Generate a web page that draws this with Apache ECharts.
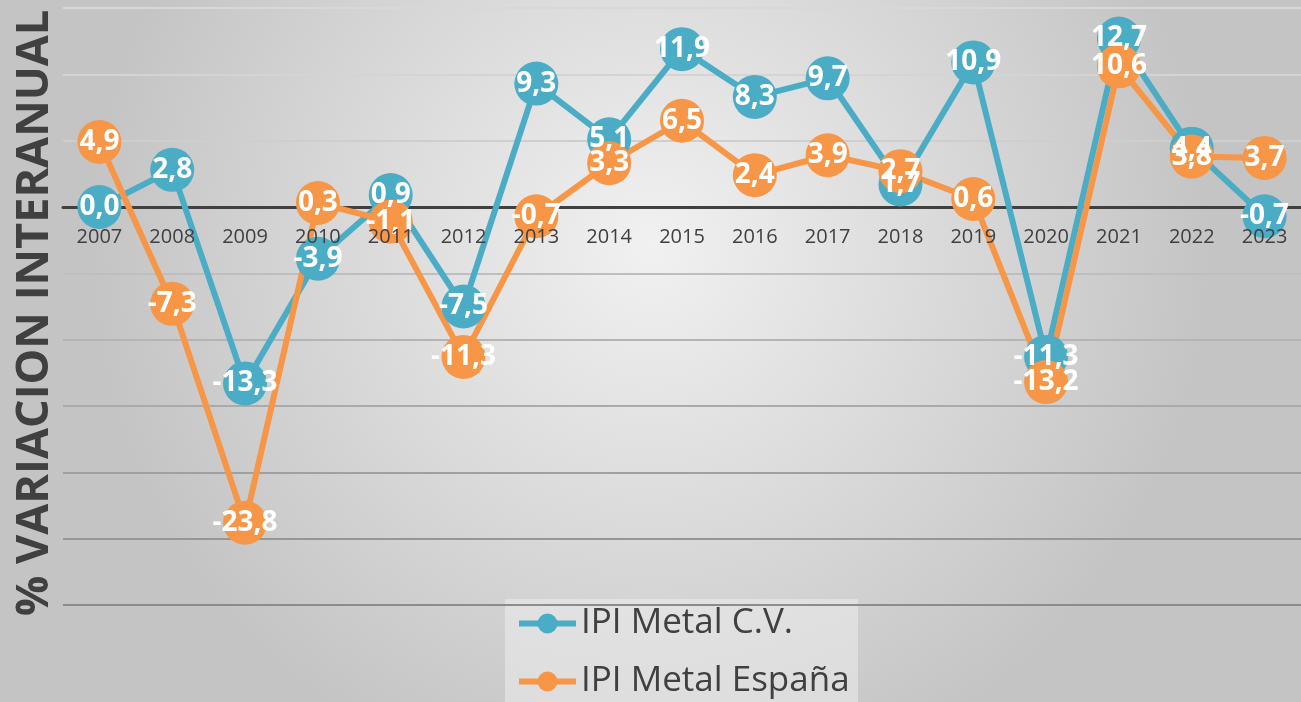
<!DOCTYPE html>
<html>
<head>
<meta charset="utf-8">
<title>IPI Metal</title>
<script src="https://cdn.jsdelivr.net/npm/echarts@6/dist/echarts.min.js"></script>
<style>
  html, body { margin: 0; padding: 0; }
  #main { width: 1301px; height: 702px; }
</style>
</head>
<body>
<div id="main"></div>
<script>
// datos
var years = ['2007','2008','2009','2010','2011','2012','2013','2014','2015','2016','2017','2018','2019','2020','2021','2022','2023'];
var ipiCV = [0.0, 2.8, -13.3, -3.9, 0.9, -7.5, 9.3, 5.1, 11.9, 8.3, 9.7, 1.7, 10.9, -11.3, 12.7, 4.4, -0.7];
var ipiEsp = [4.9, -7.3, -23.8, 0.3, -1.1, -11.3, -0.7, 3.3, 6.5, 2.4, 3.9, 2.7, 0.6, -13.2, 10.6, 3.8, 3.7];

var font = '"Open Sans", "DejaVu Sans", sans-serif';
var yMin = -30, yMax = 15;
var gTop = 8, gBottom = 97;
// alto del area de trazado, para subir el eje x hasta el cero
var plotH = 702 - gTop - gBottom;
var zeroOffset = -plotH * (0 - yMin) / (yMax - yMin);

function lbl(p) {
    return p.value.toFixed(1).replace('.', ',');
}

function serie(name, data, color) {
    return {
        name: name,
        type: 'line',
        xAxisIndex: 0,
        data: data,
        symbol: 'circle',
        symbolSize: 44,
        lineStyle: { color: color, width: 6 },
        itemStyle: { color: color },
        label: {
            show: true,
            position: 'inside',
            formatter: lbl,
            color: '#fff',
            fontFamily: font,
            fontWeight: 'bold',
            fontSize: 28
        },
        emphasis: { disabled: true },
        animation: false
    };
}

var myChart = echarts.init(document.getElementById('main'));
var option = {
    backgroundColor: {
        type: 'radial', x: 0.5, y: 0.35, r: 0.8,
        colorStops: [
            { offset: 0, color: '#f1f1f1' },
            { offset: 1, color: '#c4c4c4' }
        ]
    },
    graphic: [
        {
            type: 'rect', z: -10,
            shape: { x: 505, y: 599, width: 353, height: 103 },
            style: { fill: 'rgba(236,236,236,0.55)' }
        },
        {
            type: 'text',
            x: 35, y: 313,
            rotation: Math.PI / 2,
            style: {
                text: '% VARIACION INTERANUAL',
                fill: '#404040',
                font: 'bold 45px ' + font,
                align: 'center',
                verticalAlign: 'middle'
            }
        }
    ],
    grid: { left: 63, right: -8, top: gTop, bottom: gBottom },
    legend: {
        orient: 'vertical',
        left: 516, top: 606,
        padding: 0,
        itemWidth: 57, itemHeight: 25,
        itemGap: 23,
        lineStyle: { width: 6 },
        textStyle: { fontSize: 35, color: '#404040', fontFamily: font },
        data: ['IPI Metal C.V.', 'IPI Metal España']
    },
    xAxis: [
        {
            // linea del cero, debajo de las series
            type: 'category',
            data: years,
            offset: zeroOffset,
            axisLine: { onZero: false, lineStyle: { color: '#404040', width: 3 } },
            axisTick: { show: false },
            axisLabel: { show: false },
            splitLine: { show: false }
        },
        {
            // etiquetas de los años, por encima
            type: 'category',
            data: years,
            position: 'bottom',
            offset: zeroOffset,
            z: 10,
            axisLine: { show: false },
            axisTick: { show: false },
            axisLabel: { color: '#404040', fontSize: 20, fontFamily: font, margin: 20 },
            splitLine: { show: false }
        }
    ],
    yAxis: {
        type: 'value',
        min: yMin, max: yMax, interval: 5,
        axisLine: { show: false },
        axisTick: { show: false },
        axisLabel: { show: false },
        splitLine: {
            lineStyle: {
                width: 2,
                color: ['#8c8c8c', '#969696', '#a0a0a0', '#aaaaaa', '#b4b4b4', '#bebebe', '#c6c6c6', '#cecece', '#d4d4d4', '#d8d8d8']
            }
        }
    },
    series: [
        serie('IPI Metal C.V.', ipiCV, '#4BACC6'),
        serie('IPI Metal España', ipiEsp, '#F79646')
    ]
};
myChart.setOption(option);
</script>
</body>
</html>
